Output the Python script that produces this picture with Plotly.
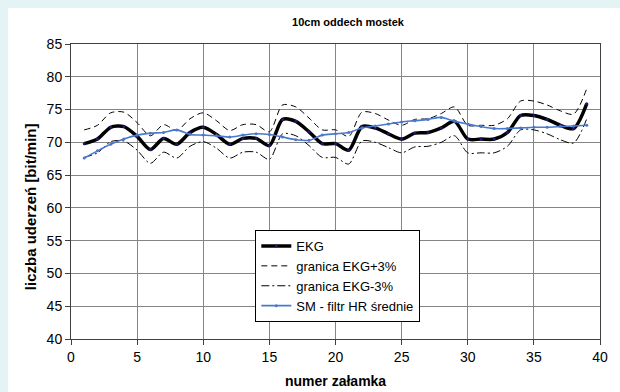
import plotly.graph_objects as go

# numer załamka (1..39)
numer = list(range(1, 40))

# EKG heart rate [bit/min]
ekg = [69.8, 70.5, 72.3, 72.4, 70.9, 68.9, 70.6, 69.7, 71.5, 72.3,
       71.2, 69.7, 70.6, 70.6, 69.5, 73.5, 73.2, 71.6, 69.8, 69.8,
       68.8, 72.4, 72.2, 71.3, 70.5, 71.4, 71.5, 72.2, 73.2, 70.5,
       70.5, 70.5, 71.5, 74.1, 74.1, 73.5, 72.6, 72.1, 75.9]

# upper band (EKG +3%)
granica_plus = [71.9, 72.6, 74.5, 74.6, 73.0, 71.0, 72.7, 71.8, 73.6, 74.5,
                73.3, 71.8, 72.7, 72.7, 71.6, 75.7, 75.4, 73.7, 71.9, 71.9,
                70.9, 74.6, 74.4, 73.4, 72.6, 73.5, 73.6, 74.4, 75.4, 72.6,
                72.6, 72.6, 73.6, 76.3, 76.3, 75.7, 74.8, 74.3, 78.2]

# lower band (EKG -3%)
granica_minus = [67.7, 68.4, 70.1, 70.2, 68.8, 66.8, 68.5, 67.6, 69.4, 70.1,
                 69.1, 67.6, 68.5, 68.5, 67.4, 71.3, 71.0, 69.5, 67.7, 67.7,
                 66.7, 70.2, 70.0, 69.2, 68.4, 69.3, 69.4, 70.0, 71.0, 68.4,
                 68.4, 68.4, 69.4, 71.9, 71.9, 71.3, 70.4, 69.9, 73.6]

# SM - filtr HR średnie
sm_filtr = [67.6, 68.7, 69.7, 70.5, 71.1, 71.4, 71.5, 71.9, 71.2, 71.1,
            71.0, 70.8, 71.1, 71.3, 71.2, 70.8, 70.4, 70.3, 71.1, 71.3,
            71.5, 72.2, 72.5, 72.8, 73.1, 73.3, 73.5, 73.8, 73.2, 72.8,
            72.4, 72.1, 72.1, 72.2, 72.3, 72.3, 72.4, 72.5, 72.6]

x_ticks = list(range(0, 41, 5))
y_ticks = list(range(40, 86, 5))

FONT = "Liberation Sans, Arial, sans-serif"

fig = go.Figure()

fig.add_trace(go.Scatter(
    x=numer, y=ekg, name="EKG", mode="lines+markers",
    line=dict(color="black", width=3.5, shape="spline", smoothing=0.8),
    marker=dict(size=3, color="#1a1a6e"),
))
fig.add_trace(go.Scatter(
    x=numer, y=granica_plus, name="granica EKG+3%", mode="lines",
    line=dict(color="black", width=1, dash="6px,4px", shape="spline", smoothing=0.8),
))
fig.add_trace(go.Scatter(
    x=numer, y=granica_minus, name="granica EKG-3%", mode="lines",
    line=dict(color="black", width=1, dash="8px,3px,2px,3px", shape="spline", smoothing=0.8),
))
fig.add_trace(go.Scatter(
    x=numer, y=sm_filtr, name="SM - filtr HR średnie", mode="lines+markers",
    line=dict(color="#4a78cc", width=1.6, shape="spline", smoothing=0.8),
    marker=dict(size=3, color="#4a78cc"),
))

L, R, T, B = 71, 18, 44, 53
W, H = 620, 392
pw, ph = W - L - R, H - T - B

def px_x(p):
    return (p - L) / pw

def px_y(p):
    return (H - B - p) / ph

fig.update_layout(
    width=W, height=H,
    margin=dict(l=L, r=R, t=T, b=B, pad=0),
    paper_bgcolor="#e4f3f3",
    plot_bgcolor="white",
    font=dict(family=FONT, size=14, color="black"),
    title=dict(text="<b>10cm oddech mostek</b>", font=dict(size=11, family=FONT),
               x=348 / W, xanchor="center", y=1 - 22 / H, yanchor="middle",
               xref="container", yref="container"),
    showlegend=True,
    legend=dict(x=px_x(256), y=px_y(230), xanchor="left", yanchor="top",
                bgcolor="white", bordercolor="black", borderwidth=1,
                font=dict(size=13, family=FONT), tracegroupgap=0,
                itemwidth=30),
    xaxis=dict(range=[0, 40], tickvals=x_ticks, showgrid=True,
               gridcolor="#858585", gridwidth=1, zeroline=False,
               showline=True, linecolor="#404040", linewidth=1, mirror=True,
               ticks="outside", ticklen=5, tickcolor="#404040",
               tickfont=dict(size=14)),
    yaxis=dict(range=[40, 85], tickvals=y_ticks, showgrid=True,
               gridcolor="#858585", gridwidth=1, zeroline=False,
               showline=True, linecolor="#404040", linewidth=1, mirror=True,
               ticks="outside", ticklen=5, tickcolor="#404040",
               tickfont=dict(size=14)),
    shapes=[dict(type="rect", xref="paper", yref="paper", layer="below",
                 x0=px_x(8), x1=px_x(W + 2), y0=px_y(H + 2), y1=px_y(8),
                 fillcolor="white", line=dict(width=0))],
    annotations=[
        dict(text="<b>numer załamka</b>", xref="paper", yref="paper",
             x=px_x(337), y=px_y(381), showarrow=False,
             xanchor="center", yanchor="middle", font=dict(size=14)),
        dict(text="<b>liczba uderzeń [bit/min]</b>", xref="paper", yref="paper",
             x=px_x(31), y=px_y(207), showarrow=False, textangle=-90,
             xanchor="center", yanchor="middle", font=dict(size=15)),
    ],
)

fig.write_html("out.html")
